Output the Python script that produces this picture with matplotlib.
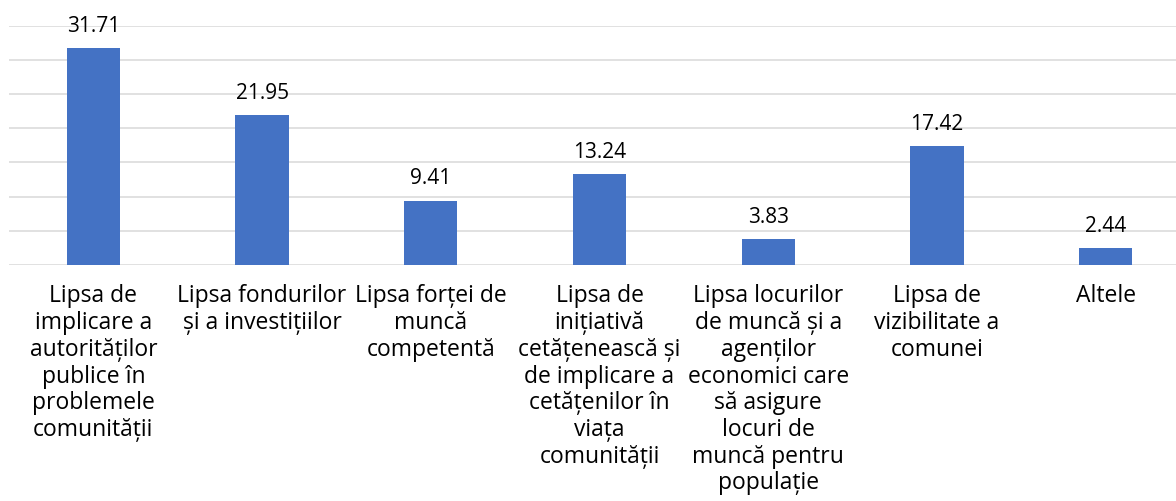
import matplotlib
matplotlib.use("Agg")
import matplotlib.pyplot as plt

# categorii si procente
categorii = [
    "Lipsa de\nimplicare a\nautorităților\npublice în\nproblemele\ncomunității",
    "Lipsa fondurilor\nși a investițiilor",
    "Lipsa forței de\nmuncă\ncompetentă",
    "Lipsa de\ninițiativă\ncetățenească și\nde implicare a\ncetățenilor în\nviața\ncomunității",
    "Lipsa locurilor\nde muncă și a\nagenților\neconomici care\nsă asigure\nlocuri de\nmuncă pentru\npopulație",
    "Lipsa de\nvizibilitate a\ncomunei",
    "Altele",
]
valori = [31.71, 21.95, 9.41, 13.24, 3.83, 17.42, 2.44]

plt.rcParams['font.family'] = ['Open Sans', 'DejaVu Sans']

fig = plt.figure(figsize=(11.76, 5.01), dpi=100)
ax = fig.add_axes([9 / 1176, 1 - 265 / 501, 1181 / 1176, 239.5 / 501])

x = range(len(valori))
bars = ax.bar(x, valori, width=0.315, color="#4472C4", zorder=3)

ax.set_ylim(0, 35)
ax.set_xlim(-0.5, len(valori) - 0.5)
ax.set_yticks(range(0, 36, 5))
ax.yaxis.grid(True, color="#d9d9d9", linewidth=1.1, zorder=0)
ax.tick_params(axis="y", left=False, labelleft=False)
ax.tick_params(axis="x", length=0, pad=14)
ax.set_xticks(list(x))
ax.set_xticklabels(categorii, fontsize=16.5, color="#000000", linespacing=1.15)
for s in ["top", "right", "left", "bottom"]:
    ax.spines[s].set_visible(False)

for b, v in zip(bars, valori):
    ax.annotate(f"{v:.2f}", (b.get_x() + b.get_width() / 2, v),
                xytext=(0, 8), textcoords="offset points",
                ha="center", va="bottom", fontsize=15, color="#000000")

fig.savefig("out.png", dpi=100)
